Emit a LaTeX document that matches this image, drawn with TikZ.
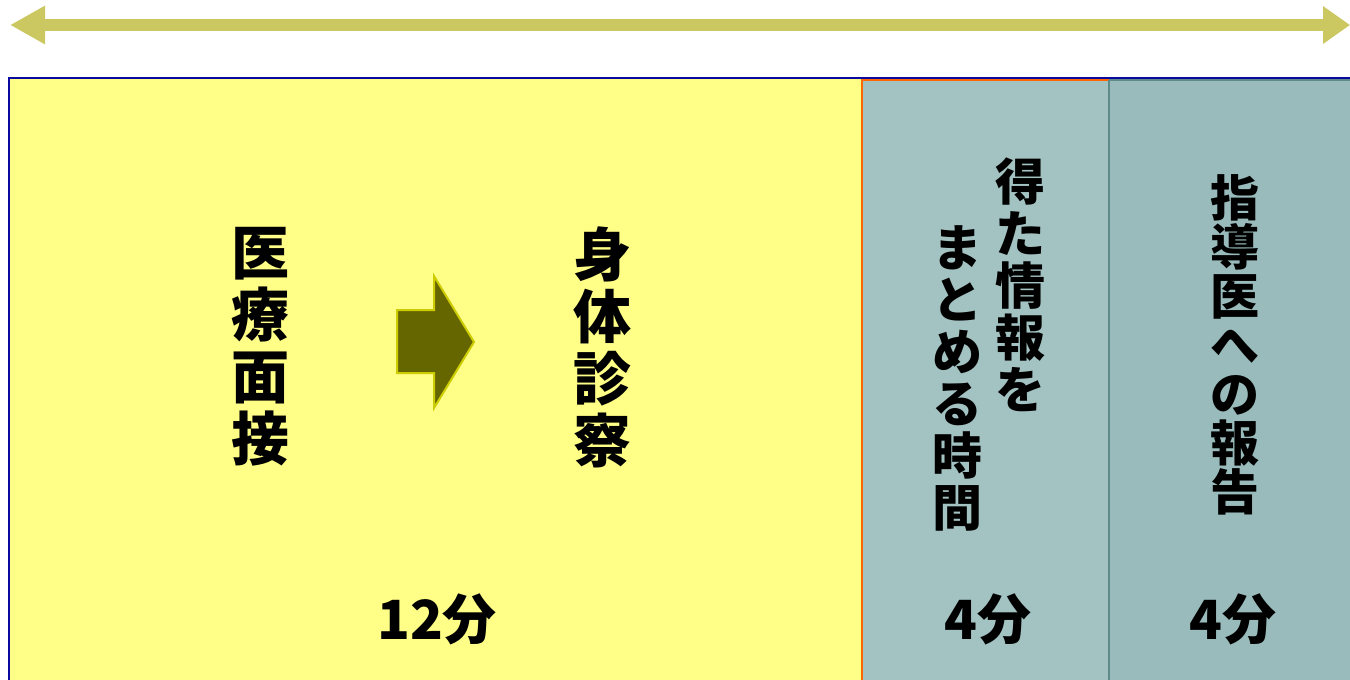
\documentclass[tikz,border=0pt]{standalone}
\usepackage{fontspec}
\newfontfamily\jp{Noto Sans CJK JP}
\usetikzlibrary{arrows.meta}
\definecolor{topArrow}{RGB}{203,200,98}
\definecolor{frameBlue}{RGB}{10,10,160}
\definecolor{panelYellow}{RGB}{255,255,136}
\definecolor{panelMid}{RGB}{163,194,194}
\definecolor{panelRight}{RGB}{153,187,187}
\definecolor{edgeOrange}{RGB}{255,102,0}
\definecolor{edgeTeal}{RGB}{95,138,138}
\definecolor{arrowFill}{RGB}{102,102,0}
\definecolor{arrowEdge}{RGB}{204,204,0}
\tikzset{
  vtext/.style={align=center, inner sep=0pt, text=black},
  bigtext/.style={vtext, font=\jp\bfseries\fontsize{58}{62}\selectfont},
  midtext/.style={vtext, font=\jp\bfseries\fontsize{50}{52}\selectfont},
  righttext/.style={vtext, font=\jp\bfseries\fontsize{49}{49}\selectfont},
  minutes/.style={inner sep=0pt, font=\jp\bfseries\fontsize{54}{54}\selectfont}
}
\begin{document}
\begin{tikzpicture}[x=1pt,y=-1pt]
\useasboundingbox (0,0) rectangle (1350,680);
\clip (0,0) rectangle (1350,680);
% top double arrow
\coordinate (tl) at (10,25);
\coordinate (tr) at (1350,25);
\draw[topArrow, line width=12pt,
  {Triangle[length=35pt,width=36pt]}-{Triangle[length=27pt,width=36pt]}] (tl) -- (tr);
% panels
\fill[panelYellow] (9,78) rectangle (1360,690);
\fill[panelMid] (862,80) rectangle (1109,690);
\fill[panelRight] (1109,80) rectangle (1360,690);
\draw[edgeOrange, line width=2pt] (862,690) -- (862,80) -- (1109,80);
\draw[edgeTeal, line width=2pt] (1109,80) -- (1360,80);
\draw[edgeTeal, line width=1.5pt] (1109,80) -- (1109,690);
\draw[frameBlue, line width=2pt] (9,690) -- (9,78) -- (1360,78);
% texts
\node[bigtext] (a) at (260,347) {医\\療\\面\\接};
\node[bigtext] (b) at (602,347) {身\\体\\診\\察};
\node[midtext] (c1) at (1020,285) {得\\た\\情\\報\\を};
\node[midtext] (c2) at (957,378) {ま\\と\\め\\る\\時\\間};
\node[righttext] (d) at (1235,345) {指\\導\\医\\へ\\の\\報\\告};
\node[minutes] (m1) at (437,619) {12分};
\node[minutes] (m2) at (988,619) {4分};
\node[minutes] (m3) at (1233,619) {4分};
% block arrow
\draw[arrowEdge, fill=arrowFill, line width=2pt, line join=miter]
  (397,310) -- (434,310) -- (434,276) -- (474,342) -- (434,408) -- (434,373) -- (397,373) -- cycle;
\end{tikzpicture}
\end{document}
